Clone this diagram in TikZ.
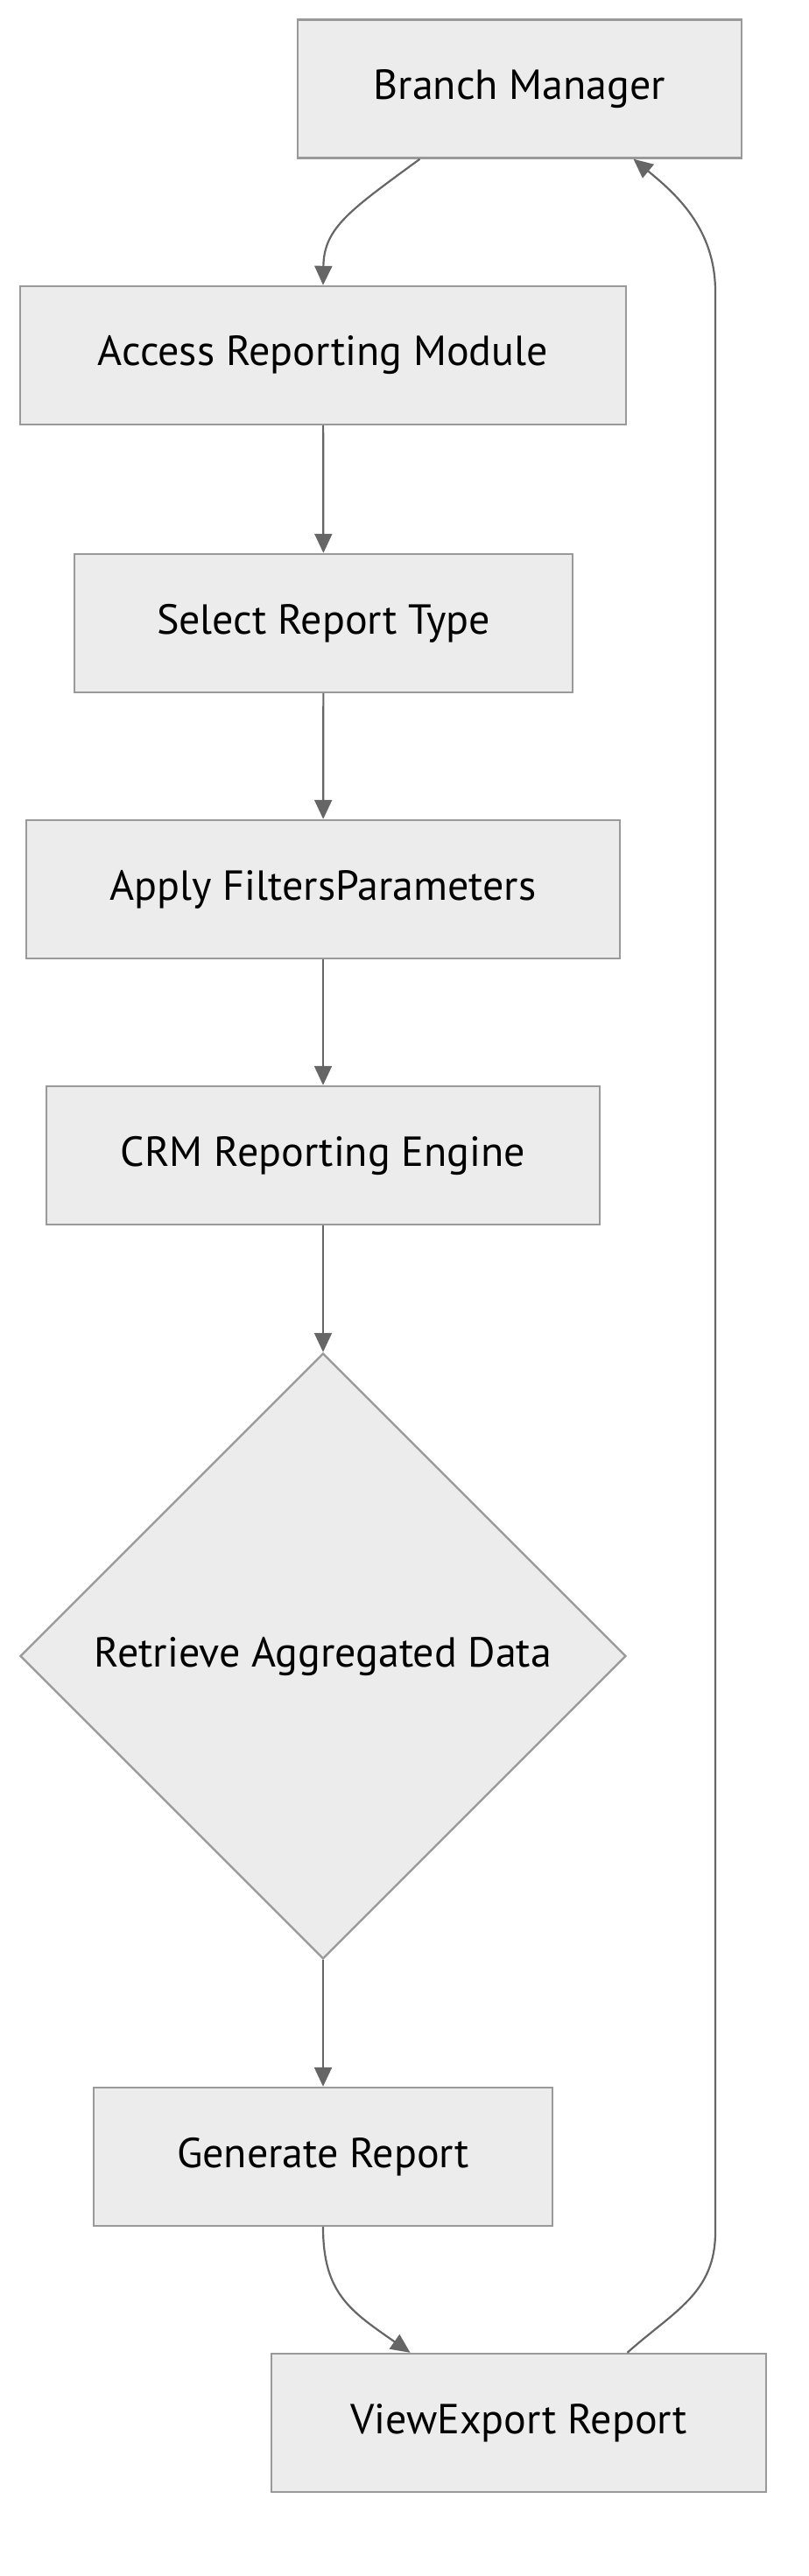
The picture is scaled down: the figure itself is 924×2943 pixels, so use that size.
\documentclass[tikz,border=0pt]{standalone}
\usepackage{fontspec}
\setmainfont{PT Sans}
\usetikzlibrary{shapes.geometric,arrows.meta}

\definecolor{boxfill}{HTML}{ECECEC}
\definecolor{boxline}{HTML}{999999}
\definecolor{linkline}{HTML}{666666}

\begin{document}
\begin{tikzpicture}[
		x=0.5pt,y=-0.5pt,
		every node/.style={draw=boxline,fill=boxfill,line width=1.2pt,font=\fontsize{24}{29}\selectfont,inner sep=0pt},
		stepbox/.style={rectangle,minimum height=79pt},
		choice/.style={diamond,minimum width=346pt,minimum height=346pt},
		link/.style={draw=linkline,line width=1.1pt,-{Triangle[length=11pt,width=10pt]}}
		]
		\useasboundingbox (0,0) rectangle (924,2943);
		\node[stepbox,minimum width=253.5pt] (manager) at (593.5,101.5) {Branch Manager};
		\node[stepbox,minimum width=346pt] (access) at (369,406) {Access Reporting Module};
		\node[stepbox,minimum width=284.5pt] (select) at (369.5,712) {Select Report Type};
		\node[stepbox,minimum width=339pt] (filters) at (369,1016) {Apply FiltersParameters};
		\node[stepbox,minimum width=316pt] (engine) at (369,1320) {CRM Reporting Engine};
		\node[choice] (retrieve) at (369,1892) {Retrieve Aggregated Data};
		\node[stepbox,minimum width=262pt] (generate) at (369,2464) {Generate Report};
		\node[stepbox,minimum width=282.5pt] (view) at (592.5,2768) {ViewExport Report};
		
		\draw[link] ([xshift=-57pt]manager.south) .. controls (400,240) and (370,260) .. (access.north);
		\draw[link] (access) -- (select);
		\draw[link] (select) -- (filters);
		\draw[link] (filters) -- (engine);
		\draw[link] (engine) -- (retrieve);
		\draw[link] (retrieve) -- (generate);
		\draw[link] (generate.south) .. controls (369,2620) and (400,2640) .. ([xshift=-62pt]view.north);
		\draw[link] ([xshift=62pt]view.north) .. controls (770,2640) and (817,2620) .. (817,2550)
			-- (817,333) .. controls (817,260) and (770,220) .. ([xshift=65pt]manager.south);
		\end{tikzpicture}
\end{document}
